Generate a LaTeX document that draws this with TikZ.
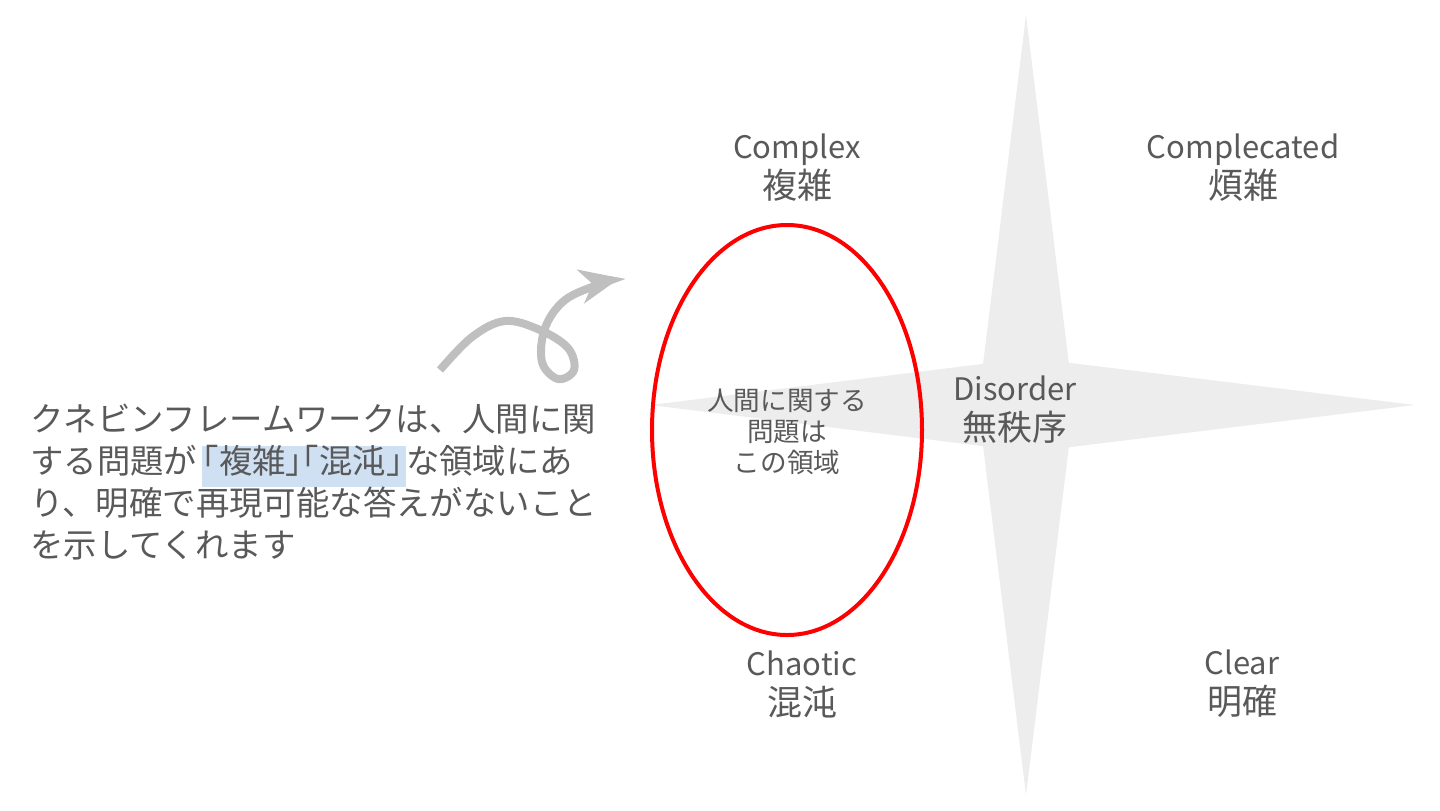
\documentclass[tikz,border=0pt]{standalone}
\usepackage{fontspec}
\setmainfont{Noto Sans CJK JP}
\usetikzlibrary{arrows.meta}
\definecolor{txtgray}{HTML}{595959}
\definecolor{stargray}{HTML}{EDEDED}
\definecolor{arrgray}{HTML}{BFBFBF}
\definecolor{hlblue}{HTML}{CFE0F3}
\newcommand{\jpbig}{\fontsize{17.5}{20}\selectfont}
\newcommand{\halfbr}[1]{{\addfontfeatures{RawFeature=+halt}#1}}
\tikzset{
  domlabel/.style={text=txtgray, align=center, font=\fontsize{15.5}{20}\selectfont, inner sep=0pt},
  innerlbl/.style={text=txtgray, align=center, font=\fontsize{13.3}{15.5}\selectfont, inner sep=0pt},
  paratext/.style={text=txtgray, align=left, anchor=north west, font=\fontsize{16.7}{21}\selectfont, inner sep=0pt},
}
\begin{document}
\begin{tikzpicture}[x=0.5pt,y=-0.5pt]
\useasboundingbox (0,0) rectangle (1440,810);
% star
\fill[stargray] (1026,15) -- (1074,405) -- (1026,795) -- (978,405) -- cycle;
\fill[stargray] (650,405) -- (1030,358) -- (1415,405) -- (1030,452) -- cycle;
% ellipse
\draw[red, line width=2pt] (787,430) ellipse [x radius=135, y radius=205];
% domain labels
\node[domlabel] (cx) at (797,168) {Complex\\\jpbig 複雑};
\node[domlabel] (cd) at (1243,168) {Complecated\\\jpbig 煩雑};
\node[domlabel] (ch) at (802,684) {Chaotic\\\jpbig 混沌};
\node[domlabel] (cl) at (1242,684) {Clear\\\jpbig 明確};
\node[domlabel] (ds) at (1015,410) {Disorder\\\jpbig 無秩序};
\node[innerlbl] (in) at (787,432) {人間に関する\\問題は\\この領域};
% paragraph
\node[paratext] (pr) at (30,404) {クネビンフレームワークは、人間に関\\する問題が\hspace{0.15em}{\setlength{\fboxsep}{0pt}\colorbox{hlblue}{\rule[-0.4em]{0pt}{1.25em}\halfbr{「}複雑\halfbr{」「}混沌\halfbr{」}\hspace{0.1em}}}な領域にあ\\り、明確で再現可能な答えがないこと\\を示してくれます};
% arrow
\coordinate (a0) at (440,370);
\coordinate (a9) at (622,278);
\draw[arrgray, line width=4pt, -{Stealth[length=20pt,width=17pt,inset=6pt]}]
  plot[smooth, tension=0.6] coordinates {(440,370) (472,337) (505,321) (540,330) (568,348) (574,370) (558,379) (542,362) (545,328) (565,300) (600,284) (620,278)};
\end{tikzpicture}
\end{document}
